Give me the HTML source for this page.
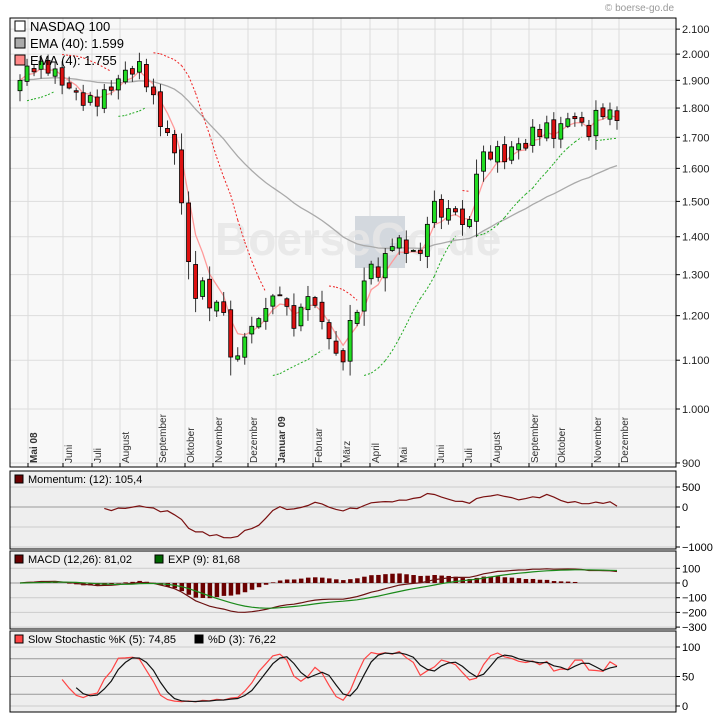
<!DOCTYPE html>
<html><head><meta charset="utf-8"><style>
body{margin:0;background:#fff;width:720px;height:721px;overflow:hidden;font-family:"Liberation Sans",sans-serif}
svg text{font-family:"Liberation Sans",sans-serif}
</style></head><body>
<svg id="s" width="720" height="721" xmlns="http://www.w3.org/2000/svg"></svg>
<script>
const S=document.getElementById('s');let H='';
const L=10,R=676;
function yP(p){return 409-512*Math.log(p/1000);}
H+=`<rect x="${L}" y="18" width="${R-L}" height="449" fill="#f8f8f8"/>`;
H+=`<rect x="${L}" y="471" width="${R-L}" height="78" fill="#eeeeee"/>`;
H+=`<rect x="${L}" y="551" width="${R-L}" height="78" fill="#eeeeee"/>`;
H+=`<rect x="${L}" y="631" width="${R-L}" height="81" fill="#eeeeee"/>`;
const gx=[28,63,92,120,157,185,213,248,276,313,341,370,398,435,463,491,529,556,592,619];
const mn=['Mai 08','Juni','Juli','August','September','Oktober','November','Dezember','Januar 09','Februar','März','April','Mai','Juni','Juli','August','September','Oktober','November','Dezember'];
gx.forEach(x=>{H+=`<line x1="${x}" y1="18" x2="${x}" y2="467" stroke="#ddd"/>`;});
const pt=[2100,2000,1900,1800,1700,1600,1500,1400,1300,1200,1100,1000,900];
pt.forEach(p=>{const y=yP(p);H+=`<line x1="${L}" y1="${y}" x2="${R}" y2="${y}" stroke="#ddd"/><line x1="${R}" y1="${y}" x2="${R+4}" y2="${y}" stroke="#000"/><text x="${R+6}" y="${y+4}" font-size="11" fill="#222">${p>=1000?(p/1000).toFixed(3):p}</text>`;});
gx.forEach((x,i)=>{const b=(i==0||i==8);H+=`<text transform="translate(${x+9},463) rotate(-90)" font-size="10" fill="#333" ${b?'font-weight="bold"':''}>${mn[i]}</text><line x1="${x}" y1="463" x2="${x}" y2="467" stroke="#000"/>`;});
H+=`<rect x="355" y="216" width="50" height="52" fill="#d3d8de"/><text x="215" y="255" font-size="46" font-weight="bold" fill="#e6e6e6" fill-opacity="0.85">BoerseGo.de</text>`;
const kp=[[20,1900],[28,1950],[50,1950],[60,1900],[85,1820],[100,1830],[125,1930],[140,1950],[150,1870],[160,1750],[170,1700],[178,1600],[183,1470],[190,1280],[197,1250],[205,1280],[212,1200],[220,1250],[228,1150],[235,1060],[243,1170],[250,1150],[257,1200],[265,1210],[270,1230],[278,1270],[285,1220],[292,1180],[300,1200],[310,1270],[318,1190],[325,1180],[333,1130],[340,1070],[347,1160],[355,1200],[362,1260],[370,1330],[378,1300],[385,1340],[392,1390],[400,1380],[410,1360],[420,1350],[427,1440],[435,1490],[442,1470],[450,1460],[457,1490],[463,1420],[470,1450],[477,1600],[484,1640],[492,1650],[500,1650],[507,1630],[515,1680],[520,1680],[527,1670],[534,1730],[541,1720],[548,1730],[555,1710],[562,1740],[569,1770],[576,1770],[583,1730],[590,1720],[597,1780],[604,1790],[611,1780],[617,1760]];
function interp(x){for(let i=0;i<kp.length-1;i++){if(x<=kp[i+1][0]){const t=(x-kp[i][0])/(kp[i+1][0]-kp[i][0]);return kp[i][1]+t*(kp[i+1][1]-kp[i][1]);}}return kp[kp.length-1][1];}
const N=86,xs=[],C=[];for(let i=0;i<N;i++){const x=20+i*(597/(N-1));xs.push(x);C.push(interp(x)*(1+0.012*Math.sin(i*2.7)));}
const O=[],Hi=[],Lo=[];for(let i=0;i<N;i++){O.push(i?C[i-1]*(1+0.006*Math.cos(i*1.9)):C[0]*0.98);const r=Math.abs(C[i]-O[i]);Hi.push(Math.max(O[i],C[i])+r*0.2+C[i]*0.008*(1+Math.sin(i*3.1)));Lo.push(Math.min(O[i],C[i])-r*0.2-C[i]*0.008*(1+Math.cos(i*2.3)));}
function ema(a,n){const k=2/(n+1);const o=[a[0]];for(let i=1;i<a.length;i++)o.push(a[i]*k+o[i-1]*(1-k));return o;}
function pl(a,f,st,extra,from){let d='';for(let i=from||0;i<a.length;i++){d+=(d?'L':'M')+xs[i].toFixed(1)+','+f(a[i]).toFixed(1);}return `<path d="${d}" fill="none" stroke="${st}" ${extra||''}/>`;}
const e40=ema(C,40),e4=ema(C,4);
H+=pl(e40,yP,'#aaa','stroke-width="1.3"');
H+=pl(e4,yP,'#ff9a9a','stroke-width="1.3"');
let up=true,af=0.02,ep=Hi[0],sar=Lo[0];const sarA=[],sarU=[];
for(let i=1;i<N;i++){sar=sar+af*(ep-sar);
 if(up){if(Lo[i]<sar){up=false;sar=ep;ep=Lo[i];af=0.02;}else if(Hi[i]>ep){ep=Hi[i];af=Math.min(af+0.02,0.2);}}
 else{if(Hi[i]>sar){up=true;sar=ep;ep=Hi[i];af=0.02;}else if(Lo[i]<ep){ep=Lo[i];af=Math.min(af+0.02,0.2);}}
 sarA[i]=sar;sarU[i]=up;}
for(let i=1;i<N;i++){if(sarA[i]===undefined)continue;if(i+1<N&&sarU[i+1]===sarU[i]){H+=`<line x1="${xs[i]}" y1="${yP(sarA[i])}" x2="${xs[i+1]}" y2="${yP(sarA[i+1])}" stroke="${sarU[i]?'#22aa22':'#ee2222'}" stroke-dasharray="2,2"/>`;}}
for(let i=0;i<N;i++){const x=xs[i],upc=C[i]>=O[i];const yt=yP(Math.max(O[i],C[i])),yb=yP(Math.min(O[i],C[i]));
 H+=`<line x1="${x}" y1="${yP(Hi[i])}" x2="${x}" y2="${yP(Lo[i])}" stroke="#333"/><rect x="${x-2}" y="${yt}" width="4" height="${Math.max(1,yb-yt)}" fill="${upc?'#22dd22':'#dd1111'}" stroke="#000" stroke-width="0.8"/>`;}
[['#fff','NASDAQ 100'],['#aaa','EMA (40): 1.599'],['#ff8888','EMA (4): 1.755']].forEach((l,i)=>{const y=21+i*17;H+=`<rect x="15" y="${y}" width="10" height="10" fill="${l[0]}" stroke="#000"/><text x="30" y="${y+10}" font-size="13" fill="#000">${l[1]}</text>`;});
function yM(v){return 507-v*0.04;}
[[500,487],[0,507],[-500,527],[-1000,547]].forEach(a=>{H+=`<line x1="${L}" y1="${a[1]}" x2="${R}" y2="${a[1]}" stroke="${a[0]==0?'#999':'#ccc'}"/><line x1="${R}" y1="${a[1]}" x2="${R+4}" y2="${a[1]}" stroke="#000"/>`;if(a[0]!=-500)H+=`<text x="${R+6}" y="${a[1]+4}" font-size="11">${a[0]==-1000?'−1000':a[0]}</text>`;});
const mom=C.map((c,i)=>i>=12?c-C[i-12]:0);
H+=pl(mom,yM,'#7a1010','stroke-width="1.2"',12);
H+=`<rect x="15" y="475" width="8" height="8" fill="#6b0000" stroke="#000"/><text x="28" y="483" font-size="11">Momentum: (12): 105,4</text>`;
function yD(v){return 583-v*0.147;}
[100,0,-100,-200,-300].forEach(v=>{const y=yD(v);H+=`<line x1="${L}" y1="${y}" x2="${R}" y2="${y}" stroke="${v==0?'#999':'#ccc'}"/><line x1="${R}" y1="${y}" x2="${R+4}" y2="${y}" stroke="#000"/><text x="${R+6}" y="${y+4}" font-size="11">${v<0?'−'+(-v):v}</text>`;});
const e12=ema(C,12),e26=ema(C,26);const macd=C.map((c,i)=>e12[i]-e26[i]);const sig=ema(macd,9);
for(let i=0;i<N-6;i++){const h=(macd[i]-sig[i]);const y0=yD(0),y1=yD(h*1.5);H+=`<rect x="${xs[i]-2}" y="${Math.min(y0,y1)}" width="4.5" height="${Math.abs(y1-y0)}" fill="#6b0000"/>`;}
H+=pl(macd,yD,'#6b1010','stroke-width="1.2"');H+=pl(sig,yD,'#1a8a1a','stroke-width="1.2"');
H+=`<rect x="15" y="555" width="8" height="8" fill="#6b0000" stroke="#000"/><text x="28" y="563" font-size="11">MACD (12,26): 81,02</text><rect x="155" y="555" width="8" height="8" fill="#006600" stroke="#000"/><text x="168" y="563" font-size="11">EXP (9): 81,68</text>`;
function yS(v){return 706-v*0.59;}
[[100,'#ccc'],[80,'#999'],[50,'#999'],[20,'#999'],[0,'#ccc']].forEach(a=>{const y=yS(a[0]);H+=`<line x1="${L}" y1="${y}" x2="${R}" y2="${y}" stroke="${a[1]}"/>`;});
[100,50,0].forEach(v=>{const y=yS(v);H+=`<line x1="${R}" y1="${y}" x2="${R+4}" y2="${y}" stroke="#000"/><text x="${R+6}" y="${y+4}" font-size="11">${v}</text>`;});
const fk=C.map((c,i)=>{if(i<4)return 50;let h=-1e9,l=1e9;for(let j=i-4;j<=i;j++){h=Math.max(h,Hi[j]);l=Math.min(l,Lo[j]);}return 100*(c-l)/(h-l);});
const sk=fk.map((v,i)=>i<2?v:(fk[i]+fk[i-1]+fk[i-2])/3);const sd=sk.map((v,i)=>i<2?v:(sk[i]+sk[i-1]+sk[i-2])/3);
H+=pl(sk,yS,'#ff4444','stroke-width="1.2"',6);H+=pl(sd,yS,'#111','stroke-width="1.2"',8);
H+=`<rect x="15" y="635" width="8" height="8" fill="#ff4444" stroke="#000"/><text x="28" y="643" font-size="11">Slow Stochastic %K (5): 74,85</text><rect x="195" y="635" width="8" height="8" fill="#000" stroke="#000"/><text x="208" y="643" font-size="11">%D (3): 76,22</text>`;
[[18,449],[471,78],[551,78],[631,81]].forEach(a=>{H+=`<rect x="${L}" y="${a[0]}" width="${R-L}" height="${a[1]}" fill="none" stroke="#000"/>`;});
H+=`<text x="674" y="11" font-size="10" fill="#999" text-anchor="end">© boerse-go.de</text>`;
S.innerHTML=H;
</script>
</body></html>
